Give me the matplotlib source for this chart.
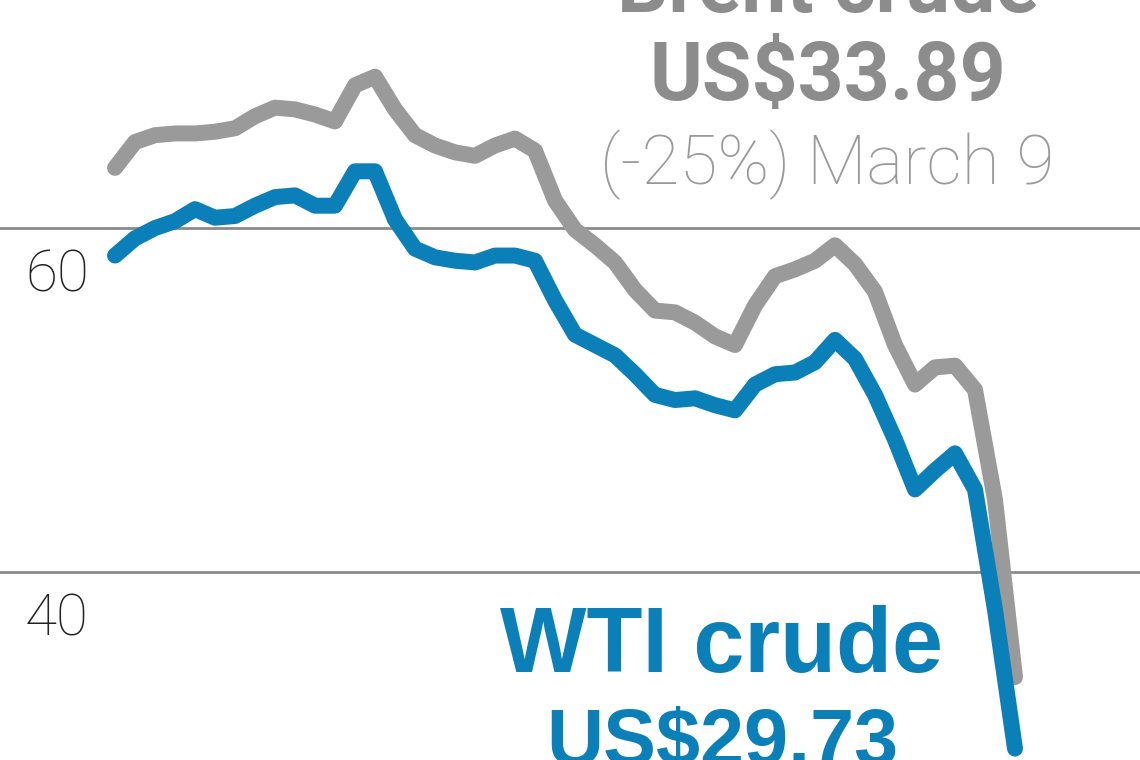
#!/usr/bin/env python3
"""Brent vs WTI crude oil prices, Dec 2019 - March 9 2020"""

import matplotlib.pyplot as plt
import numpy as np

# Data (US$ per barrel), evenly spaced samples up to March 9
brent = [63.5, 65.0, 65.4, 65.5, 65.5, 65.6, 65.8, 66.5, 67.0, 66.9,
         66.6, 66.2, 68.3, 68.8, 66.9, 65.4, 64.8, 64.4, 64.2, 64.8,
         65.2, 64.5, 61.6, 59.9, 59.0, 58.0, 56.4, 55.2, 55.1, 54.5,
         53.7, 53.2, 55.5, 57.2, 57.6, 58.1, 59.0, 57.9, 56.3, 53.2,
         50.9, 51.9, 52.0, 50.6, 44.2, 33.89]
wti = [58.4, 59.4, 60.0, 60.4, 61.1, 60.6, 60.7, 61.3, 61.8, 61.9,
       61.3, 61.3, 63.3, 63.3, 60.5, 58.8, 58.3, 58.1, 58.0, 58.4,
       58.4, 58.1, 55.8, 53.8, 53.2, 52.6, 51.5, 50.3, 50.0, 50.1,
       49.7, 49.4, 50.9, 51.5, 51.6, 52.2, 53.5, 52.4, 50.3, 47.7,
       44.8, 45.9, 46.9, 44.8, 37.8, 29.73]
days = np.arange(len(brent))
gridlines = [40, 60]

GRAY = '#9a9a9a'
BLUE = '#0b80b8'

fig = plt.figure(figsize=(11.4, 7.6), dpi=100)
ax = fig.add_axes([0, 0, 1, 1])
ax.axis('off')

for g in gridlines:
    ax.axhline(g, color='#8a8a8a', lw=2, zorder=1)
    ax.text(0.05, g - 3.7, str(g), transform=ax.get_yaxis_transform(),
            ha='center', va='baseline', fontsize=42, color='#222222',
            family='Roboto', fontweight='light')

ax.plot(days, brent, color=GRAY, lw=11.5, solid_joinstyle='round',
        solid_capstyle='round', zorder=2)
ax.plot(days, wti, color=BLUE, lw=11.5, solid_joinstyle='round',
        solid_capstyle='round', zorder=3)

ax.set_xlim(-5.75, 51.25)
ax.set_ylim(29.07, 73.26)

# Annotations
ax.text(0.726, 0.984, 'Brent crude', transform=ax.transAxes, ha='center',
        va='baseline', fontsize=58, fontweight='bold', color='#8c8c8c',
        family='Roboto')
ax.text(0.726, 0.868, 'US$33.89', transform=ax.transAxes, ha='center',
        va='baseline', fontsize=58, fontweight='bold', color='#8c8c8c',
        family='Roboto')
ax.text(0.726, 0.757, '(-25%) March 9', transform=ax.transAxes, ha='center',
        va='baseline', fontsize=50, fontweight='light', color='#999999',
        family='Roboto')
ax.text(0.633, 0.116, 'WTI crude', transform=ax.transAxes, ha='center',
        va='baseline', fontsize=66, fontweight='bold', color=BLUE,
        family='Liberation Sans')
ax.text(0.634, -0.007, 'US$29.73', transform=ax.transAxes, ha='center',
        va='baseline', fontsize=57, fontweight='bold', color=BLUE,
        family='Liberation Sans')

plt.savefig('out.png', dpi=100, facecolor='white')
plt.close()
print("Saved: out.png")
